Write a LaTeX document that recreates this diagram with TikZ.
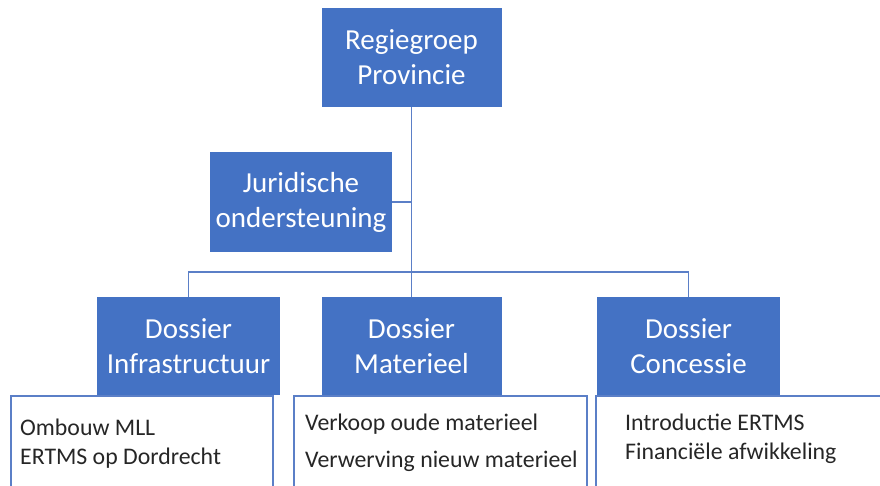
\documentclass[tikz,border=0pt]{standalone}
\usepackage{fontspec}
\setmainfont{Carlito}
\definecolor{ofblue}{HTML}{4472C4}
\definecolor{ofline}{HTML}{5B7FC7}
\begin{document}
\begin{tikzpicture}[x=1pt,y=-1pt,
  bluebox/.style={draw=none,fill=ofblue,text=white,align=center,inner sep=0pt,
    font=\fontsize{29}{35}\selectfont},
  listbox/.style={draw=ofline,line width=1.1pt,fill=white,inner sep=0pt},
  listtext/.style={anchor=base west,inner sep=0pt,text=black!85,font=\fontsize{23.8}{28}\selectfont},
  conn/.style={draw=ofline,line width=1.3pt}]
\useasboundingbox (0,0) rectangle (880,485);
\clip (0,0) rectangle (880,485);
% list boxes
\node[listbox,minimum width=262pt,minimum height=110pt] (l1) at (142,451) {};
\node[listbox,minimum width=293pt,minimum height=110pt] (l2) at (440.5,451) {};
\node[listbox,minimum width=300pt,minimum height=110pt] (l3) at (746,451) {};
\node[listtext] (t11) at (20,435) {Ombouw MLL};
\node[listtext] (t12) at (20,464) {ERTMS op Dordrecht};
\node[listtext] (t21) at (305,430) {Verkoop oude materieel};
\node[listtext] (t22) at (305,467) {Verwerving nieuw materieel};
\node[listtext] (t31) at (625,430) {Introductie ERTMS};
\node[listtext] (t32) at (625,459) {Financiële afwikkeling};
% blue boxes
\node[bluebox,minimum width=180pt,minimum height=99pt] (top) at (411.5,57.5) {Regiegroep\\Provincie};
\node[bluebox,minimum width=182pt,minimum height=100pt] (jur) at (301,202) {Juridische\\ondersteuning};
\node[bluebox,minimum width=183pt,minimum height=98pt] (infra) at (188.5,346) {Dossier\\Infrastructuur};
\node[bluebox,minimum width=180pt,minimum height=98pt] (mat) at (411.5,346) {Dossier\\Materieel};
\node[bluebox,minimum width=183pt,minimum height=98pt] (conc) at (688.5,346) {Dossier\\Concessie};
% connectors
\coordinate (bus) at (411.5,272);
\draw[conn] (top.south) -- (mat.north);
\draw[conn] (jur.east) -- (jur.east -| top.south);
\draw[conn] (infra.north) |- (bus) -| (conc.north);
\end{tikzpicture}
\end{document}
